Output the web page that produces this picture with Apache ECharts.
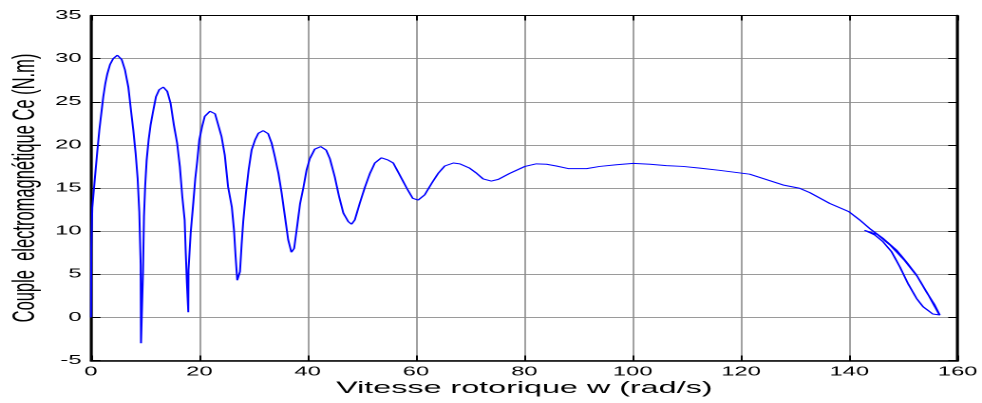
<!DOCTYPE html>
<html>
<head>
<meta charset="utf-8">
<script src="https://cdn.jsdelivr.net/npm/echarts@6/dist/echarts.min.js"></script>
<style>
  html, body { margin: 0; padding: 0; background: #fff; overflow: hidden; }
  #wrap { width: 982px; height: 403px; overflow: hidden; }
  #chart { width: 517px; height: 403px; transform: scaleX(1.8994); transform-origin: 0 0; }
</style>
</head>
<body>
<div id="wrap"><div id="chart"></div></div>
<script>
// Rotor speed w (rad/s) — x values of the traced curve, in drawing order
const speed = [
  0, 0.05, 0.24, 0.74, 1.17, 1.54, 1.97, 2.27, 2.64, 3.0, 3.5, 4.1, 4.86, 5.66, 6.27, 6.89, 7.38, 7.81, 8.24, 8.61, 8.92, 9.17, 9.23, 9.54, 9.6, 9.78,
  10.0, 10.27, 10.64, 11.0, 11.5, 12.0, 12.6, 13.35, 14.08, 14.7, 15.3, 15.9, 16.4, 16.85, 17.29, 17.5, 17.7, 17.96, 18.0, 18.4, 18.9, 19.25, 19.6,
  20.0, 20.5, 21.0, 21.96, 22.9, 23.5, 24.1, 24.7, 25.3, 26.0, 26.4, 26.7, 27.0, 27.3, 27.5, 27.8, 28.1, 28.6, 29.1, 29.65,
  30.3, 30.9, 31.8, 32.7, 33.35, 33.95, 34.6, 35.2, 35.8, 36.4, 37.0, 37.5, 37.96, 38.6, 39.2, 39.8,
  40.4, 41.3, 42.4, 43.4, 44.1, 45.0, 45.8, 46.6, 47.5, 48.1, 48.7, 49.6, 50.6, 51.5, 52.4, 53.6, 54.8, 55.8, 57.0, 58.3, 59.4,
  60.4, 61.6, 62.9, 64.1, 65.3, 66.9, 68.1, 69.9, 71.2, 72.4, 73.9, 75.2, 77.3, 80.1, 82.2, 84.1, 85.9, 88.1, 91.5, 93.9, 97.0,
  100.1, 103.2, 106.2, 109.3, 112.4, 116.0, 121.6, 127.75, 130.8, 132.7, 136.4, 139.9, 141.9, 143.75, 146.2, 148.7, 150.5, 152.4, 154.2, 155.75, 156.7,
  155.4, 153.6, 152.4, 150.8, 149.3, 147.8, 146.2, 144.7, 142.8, 143.2, 145.2, 147.5, 150.2, 152.6, 154.5, 156.6
];
// Electromagnetic torque Ce (N.m) — y values, same order
const torque = [
  0, 8.0, 12.7, 16.3, 19.3, 21.7, 24.0, 25.6, 27.1, 28.2, 29.3, 30.0, 30.4, 29.9, 28.7, 26.7, 24.0, 21.7, 19.0, 16.1, 12.2, 6.1, -3.0, -3.0, 5.3, 11.7,
  15.2, 18.2, 20.6, 22.3, 24.0, 25.6, 26.4, 26.7, 26.2, 24.8, 22.3, 20.2, 17.5, 14.0, 11.3, 7.4, 4.1, 0.6, 5.5, 9.75, 13.4, 16.1, 18.05,
  20.6, 22.1, 23.3, 23.9, 23.6, 22.3, 20.95, 18.8, 15.15, 12.8, 10.1, 7.0, 4.3, 4.1, 5.3, 8.4, 11.1, 14.4, 17.1, 19.4,
  20.6, 21.35, 21.65, 21.3, 20.2, 18.6, 16.7, 14.4, 11.7, 9.0, 7.55, 8.0, 10.1, 13.2, 15.0, 17.1,
  18.4, 19.5, 19.8, 19.4, 18.4, 16.3, 14.0, 12.07, 11.1, 10.8, 11.3, 13.2, 15.15, 16.7, 17.9, 18.5, 18.25, 17.9, 16.5, 14.97, 13.8,
  13.6, 14.2, 15.55, 16.7, 17.55, 17.9, 17.8, 17.3, 16.7, 16.05, 15.8, 16.0, 16.7, 17.5, 17.8, 17.75, 17.55, 17.25, 17.25, 17.5, 17.7,
  17.85, 17.75, 17.6, 17.5, 17.3, 17.05, 16.6, 15.35, 14.97, 14.46, 13.2, 12.26, 11.3, 10.3, 9.17, 7.8, 6.46, 4.9, 2.98, 1.44, 0.28,
  0.39, 1.24, 2.2, 3.95, 5.88, 7.6, 8.78, 9.55, 10.1, 10.2, 9.6, 8.4, 6.6, 4.7, 2.7, 0.3
];
const xTicks = { min: 0, max: 160, interval: 20 };
const yTicks = { min: -5, max: 35, interval: 5 };
const xTitle = 'Vitesse rotorique w (rad/s)';
const yTitle = 'Couple  electromagnétique Ce (N.m)';

const points = speed.map((v, i) => [v, torque[i]]);
const font = "'Liberation Sans', Arial, Helvetica, sans-serif";

const chart = echarts.init(document.getElementById('chart'), null, { renderer: 'canvas', devicePixelRatio: 2 });
const axisLineStyle = { show: true, onZero: false, lineStyle: { color: '#000', width: 1.5 } };
const tick = { show: true, inside: true, length: 5, lineStyle: { color: '#000', width: 1 } };
chart.setOption({
  animation: false,
  backgroundColor: '#fff',
  grid: { left: 47.9, right: 12.8, top: 15.5, bottom: 42.5, containLabel: false, outerBoundsMode: 'none' },
  xAxis: [
    {
      type: 'value', position: 'bottom', min: xTicks.min, max: xTicks.max, interval: xTicks.interval,
      axisLine: axisLineStyle, axisTick: tick,
      axisLabel: { margin: 5, color: '#000', fontSize: 12.5, fontFamily: font },
      splitLine: { show: true, lineStyle: { color: '#8a8a8a', width: 0.8 } },
      name: xTitle, nameLocation: 'middle', nameGap: 19.5, nameMoveOverlap: false,
      nameTextStyle: { color: '#000', fontSize: 17, fontFamily: font }
    },
    {
      type: 'value', position: 'top', min: xTicks.min, max: xTicks.max, interval: xTicks.interval,
      axisLine: { show: true, onZero: false, lineStyle: { color: '#000', width: 1 } },
      axisTick: tick, axisLabel: { show: false }, splitLine: { show: false }
    }
  ],
  yAxis: [
    {
      type: 'value', position: 'left', min: yTicks.min, max: yTicks.max, interval: yTicks.interval,
      axisLine: axisLineStyle, axisTick: tick,
      axisLabel: { margin: 5, color: '#000', fontSize: 12.5, fontFamily: font },
      splitLine: { show: true, lineStyle: { color: '#9a9a9a', width: 1 } },
      name: yTitle, nameLocation: 'middle', nameRotate: 90, nameGap: 26, nameMoveOverlap: false,
      nameTextStyle: { color: '#000', fontSize: 16.5, fontFamily: font }
    },
    {
      type: 'value', position: 'right', min: yTicks.min, max: yTicks.max, interval: yTicks.interval,
      axisLine: axisLineStyle, axisTick: tick,
      axisLabel: { show: false }, splitLine: { show: false }
    }
  ],
  series: [{
    type: 'line', xAxisIndex: 0, yAxisIndex: 0, data: points,
    showSymbol: false, smooth: false,
    lineStyle: { color: '#0000ff', width: 1 },
    silent: true
  }]
});
</script>
</body>
</html>
